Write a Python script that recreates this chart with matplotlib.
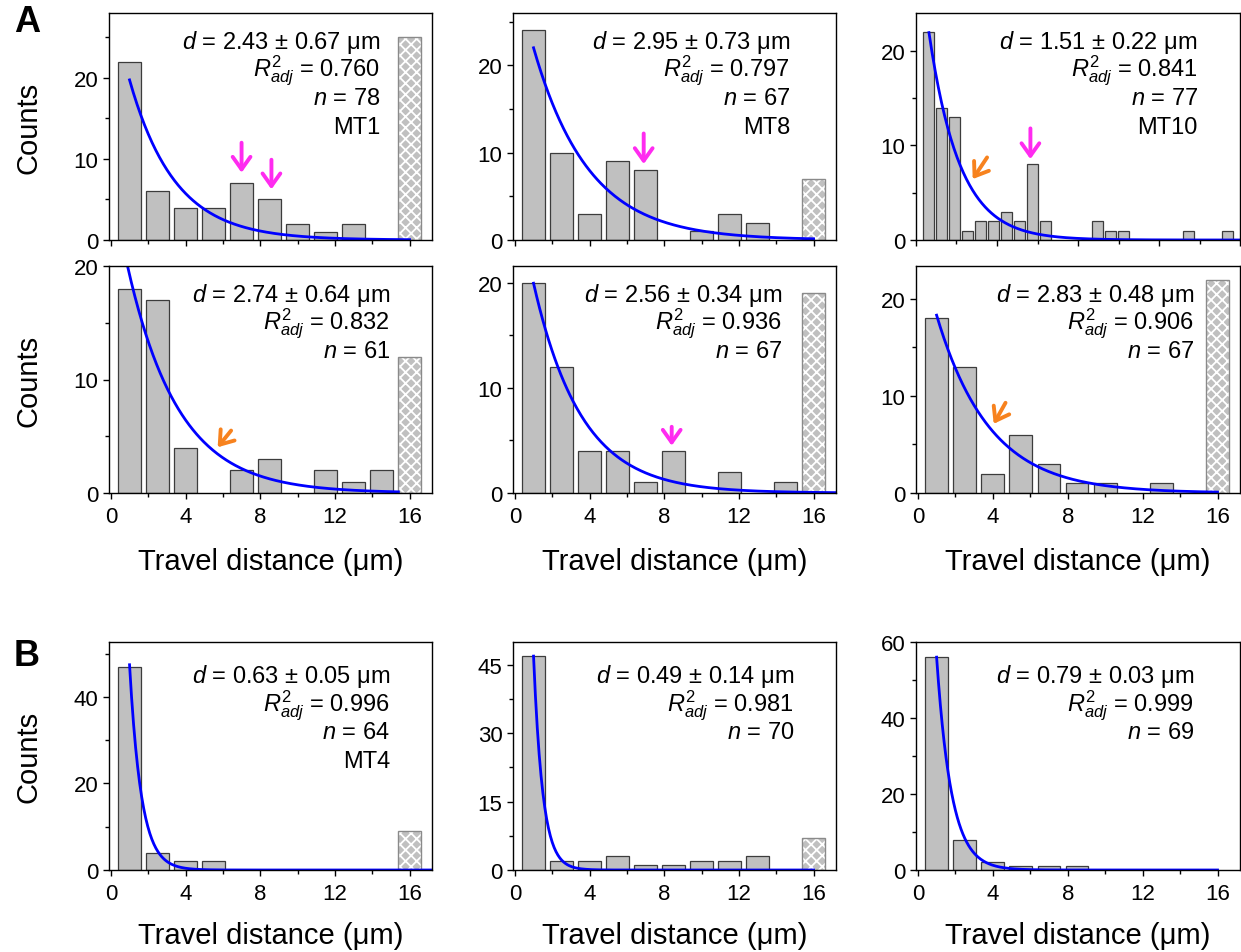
import matplotlib
matplotlib.use("Agg")
import numpy as np
import matplotlib.pyplot as plt
from matplotlib.ticker import MultipleLocator

plt.rcParams["font.family"] = ["Liberation Sans", "DejaVu Sans"]
plt.rcParams["mathtext.fontset"] = "custom"
plt.rcParams["mathtext.rm"] = "Liberation Sans"
plt.rcParams["mathtext.it"] = "Liberation Sans:italic"
plt.rcParams["mathtext.bf"] = "Liberation Sans:bold"
plt.rcParams["hatch.linewidth"] = 1.3

# ---- histogram data -------------------------------------------------------
# 1.5 um bins; the last bin (16 um) collects full-length runs (hatched)
bin_centers = [1, 2.5, 4, 5.5, 7, 8.5, 10, 11.5, 13, 14.5, 16]
counts_mt1 = [22, 6, 4, 4, 7, 5, 2, 1, 2, 0, 25]
counts_mt8 = [24, 10, 3, 9, 8, 0, 1, 3, 2, 0, 7]
counts_a4 = [18, 17, 4, 0, 2, 3, 0, 2, 1, 2, 12]
counts_a5 = [20, 12, 4, 4, 1, 4, 0, 2, 0, 1, 19]
counts_a6 = [18, 13, 2, 6, 3, 1, 1, 0, 1, 0, 22]
counts_mt4 = [47, 4, 2, 2, 0, 0, 0, 0, 0, 0, 9]
counts_b2 = [47, 2, 2, 3, 1, 1, 2, 2, 3, 0, 7]
counts_b3 = [56, 8, 2, 1, 1, 1, 0, 0, 0, 0, 0]

# MT10 uses finer 0.64 um bins
fine_centers = [0.64, 1.28, 1.92, 2.56, 3.20, 3.84, 4.48, 5.12, 5.76, 6.40,
                7.04, 7.68, 8.32, 8.96, 9.60, 10.24, 10.88, 11.52, 12.16,
                12.80, 13.44, 14.08, 14.72, 15.36, 16.00]
counts_mt10 = [22, 14, 13, 1, 2, 2, 3, 2, 8, 2, 0, 0, 0, 2, 1, 1, 0, 0, 0,
               0, 1, 0, 0, 1, 0]

# exponential fits  y = A * exp(-x / d)
decay_d = [2.43, 2.95, 1.51, 2.74, 2.56, 2.83, 0.63, 0.49, 0.79]
decay_err = [0.67, 0.73, 0.22, 0.64, 0.34, 0.48, 0.05, 0.14, 0.03]
fit_amp = [29.8, 30.9, 33.5, 27.7, 29.5, 26.1, 232.0, 361.0, 198.6]
fit_start = [1.0, 1.0, 0.64, 0.9, 1.0, 1.0, 1.0, 1.0, 1.0]
fit_end = [16.0, 16.0, 16.0, 15.4, 17.2, 16.0, 17.2, 16.0, 16.0]
r2_adj = ["0.760", "0.797", "0.841", "0.832", "0.936", "0.906", "0.996", "0.981", "0.999"]
n_runs = [78, 67, 77, 61, 67, 67, 64, 70, 69]
mt_names = ["MT1", "MT8", "MT10", "", "", "", "MT4", "", ""]

# arrows: (tail x, tail y, tip x, tip y, colour)
MAGENTA = "#ff2bf0"
ORANGE = "#f7821e"
arrows = [
    [(7.0, 12.0, 7.0, 8.3, MAGENTA), (8.6, 9.9, 8.6, 6.25, MAGENTA)],
    [(6.9, 12.2, 6.9, 8.7, MAGENTA)],
    [(5.65, 11.8, 5.65, 8.55, MAGENTA), (3.51, 8.73, 2.8, 6.44, ORANGE)],
    [(6.44, 5.5, 5.72, 4.03, ORANGE)],
    [(8.4, 6.3, 8.4, 4.5, MAGENTA)],
    [(4.68, 9.3, 4.05, 7.13, ORANGE)],
    [], [], [],
]

# axis settings per panel
y_limits = [28, 26, 24, 20, 21.6, 23.4, 52.7, 50, 60]
y_major = [10, 10, 10, 10, 10, 10, 20, 15, 20]
text_right = [0.839, 0.858, 0.870, 0.870, 0.833, 0.858, 0.870, 0.870, 0.858]

panel_counts = [counts_mt1, counts_mt8, counts_mt10, counts_a4, counts_a5,
                counts_a6, counts_mt4, counts_b2, counts_b3]

# ---- figure layout (pixel boxes) -----------------------------------------
W, H = 1241, 953
fig = plt.figure(figsize=(W / 100, H / 100), dpi=100)
col_px = [(109, 432), (513, 836), (916, 1240)]
row_px = [(14, 241), (267, 494), (643, 871)]

BAR_FACE = "#c0c0c0"
BAR_EDGE = "#3c3c3c"
FIT_BLUE = "#0000ff"

for i in range(9):
    r, c = divmod(i, 3)
    (x0, x1), (y0, y1) = col_px[c], row_px[r]
    ax = fig.add_axes([x0 / W, 1 - y1 / H, (x1 - x0) / W, (y1 - y0) / H])

    counts = panel_counts[i]
    if i == 2:
        centers, width = fine_centers, 0.54
        ax.set_xlim(0, 16)
    else:
        centers, width = bin_centers, 1.22
        ax.set_xlim(-0.1, 17.2)

    # plain bins
    hatched = (i != 2)
    n_plain = len(counts) - 1 if hatched else len(counts)
    xs = [centers[k] for k in range(n_plain) if counts[k] > 0]
    hs = [counts[k] for k in range(n_plain) if counts[k] > 0]
    ax.bar(xs, hs, width=width, color=BAR_FACE, edgecolor=BAR_EDGE,
           linewidth=0.9, zorder=2)
    # full-length bin
    if hatched and counts[-1] > 0:
        ax.bar(centers[-1], counts[-1], width=width, color=BAR_FACE,
               edgecolor="white", hatch="xxx", linewidth=0, zorder=2)
        ax.bar(centers[-1], counts[-1], width=width, fill=False,
               edgecolor="#8a8a8a", linewidth=1.0, zorder=2)

    # exponential fit
    xf = np.linspace(fit_start[i], fit_end[i], 300)
    ax.plot(xf, fit_amp[i] * np.exp(-xf / decay_d[i]), color=FIT_BLUE,
            lw=2.0, zorder=3)

    for (tx, ty, hx, hy, col) in arrows[i]:
        ax.annotate("", xy=(hx, hy), xytext=(tx, ty),
                    arrowprops=dict(arrowstyle="->, head_length=0.45, head_width=0.32",
                                    color=col, lw=2.8, mutation_scale=20,
                                    shrinkA=0, shrinkB=0), zorder=4)

    ax.set_ylim(0, y_limits[i])
    ax.yaxis.set_major_locator(MultipleLocator(y_major[i]))
    ax.yaxis.set_minor_locator(MultipleLocator(y_major[i] / 2))
    ax.xaxis.set_major_locator(MultipleLocator(4))
    ax.xaxis.set_minor_locator(MultipleLocator(2))
    ax.tick_params(which="major", direction="out", length=4.5, width=1.0,
                   labelsize=16, top=False, right=False)
    ax.tick_params(which="minor", direction="out", length=2.6, width=1.0,
                   top=False, right=False)
    ax.tick_params(axis="x", which="major", pad=5)
    ax.tick_params(axis="y", which="major", pad=3)
    for s in ax.spines.values():
        s.set_linewidth(1.0)
        s.set_zorder(5)

    if r == 0:
        ax.tick_params(axis="x", labelbottom=False)
    else:
        ax.set_xlabel("Travel distance (\u03bcm)", fontsize=21, va="baseline")
        ax.xaxis.set_label_coords(0.5, -0.335 if r == 1 else -0.32)
    if c == 0:
        ax.set_ylabel("Counts", fontsize=21, va="center")
        ax.yaxis.set_label_coords(-0.248, 0.5)

    # fit statistics
    lines = [f"$d$ = {decay_d[i]:.2f} \u00b1 {decay_err[i]:.2f} \u03bcm",
             f"$R^2_{{adj}}$ = {r2_adj[i]}",
             f"$n$ = {n_runs[i]}"]
    if mt_names[i]:
        lines.append(mt_names[i])
    offs = [35, 62, 91, 120] if r < 2 else [40, 68, 96, 125]
    h_ax = y1 - y0
    for line, off in zip(lines, offs):
        ax.text(text_right[i], 1 - off / h_ax, line, transform=ax.transAxes,
                ha="right", va="baseline", fontsize=17, zorder=6)

fig.text(27 / W, 1 - 22 / H, "A", fontsize=26, fontweight="bold",
         ha="center", va="center")
fig.text(27 / W, 1 - 657 / H, "B", fontsize=26, fontweight="bold",
         ha="center", va="center")

fig.savefig("out.png", dpi=100)
